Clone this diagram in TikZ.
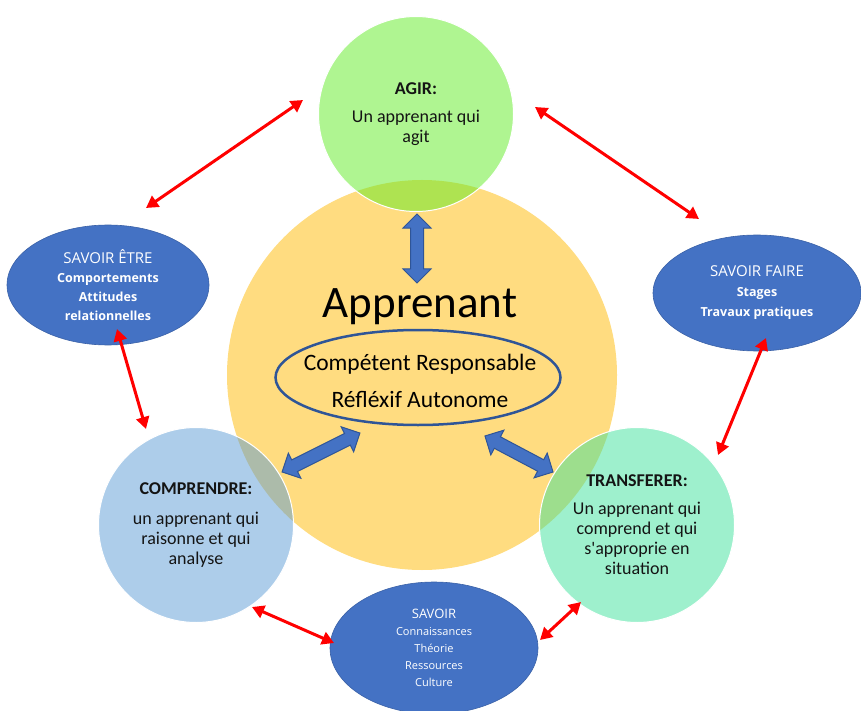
\documentclass[tikz,border=0pt]{standalone}
\usepackage{fontspec}
\setmainfont{Carlito}
\newfontfamily\comicfont{Open Sans}
\usetikzlibrary{arrows.meta,shapes.geometric,shapes.arrows}
\definecolor{yel}{RGB}{255,220,128}
\definecolor{grn}{RGB}{95,235,35}
\definecolor{lbl}{RGB}{91,155,213}
\definecolor{mnt}{RGB}{61,225,155}
\definecolor{dbl}{RGB}{68,114,196}
\definecolor{dbldraw}{RGB}{47,85,151}
\definecolor{txt}{RGB}{20,20,20}
\tikzset{
  bigcircle/.style={circle, fill=yel, minimum size=390pt, inner sep=0pt},
  goalcircle/.style={circle, draw=white, line width=1pt, fill=#1, fill opacity=0.5,
     text opacity=1, minimum size=195pt, inner sep=0pt, align=center, text=txt,
     font=\fontsize{18}{20}\selectfont},
  knowbox/.style={ellipse, fill=dbl, draw=dbl!85!black, line width=0.6pt, inner sep=0pt,
     align=center, text=white},
  redarrow/.style={draw=red, line width=3pt, {Triangle[length=12pt,width=13pt]}-{Triangle[length=12pt,width=13pt]}},
  blockarrow/.style={double arrow, draw=dbldraw, line width=1pt, fill=dbl, inner xsep=0pt,
     inner ysep=6pt, double arrow head extend=7.5pt, double arrow head indent=0pt}
}
\begin{document}
\begin{tikzpicture}[x=1pt,y=-1pt]
\useasboundingbox (0,0) rectangle (861,711);
% central learner
\node[bigcircle] (app) at (422,375) {};
\node[font=\fontsize{45}{45}\selectfont, anchor=base, inner sep=0pt] (apptitle) at (420,317) {Apprenant};
\node[ellipse, draw=dbldraw, line width=2.5pt, minimum width=285pt, minimum height=95pt,
      inner sep=0pt] (qual) at (418,377.5) {};
\node[align=center, inner sep=0pt, font=\fontsize{23.5}{37}\selectfont] (qualtext) at (420,381)
      {Compétent Responsable\\Réfléxif Autonome};
% goal circles
\node[goalcircle=grn] (agir) at (416,114) {\textbf{AGIR:}\\[8pt]Un apprenant qui\\agit};
\node[goalcircle=lbl] (comp) at (196,525) {\textbf{COMPRENDRE:}\\[10pt]un apprenant qui\\raisonne et qui\\analyse};
\node[goalcircle=mnt] (trans) at (637,525) {\textbf{TRANSFERER:}\\[8pt]Un apprenant qui\\comprend et qui\\s\textquotesingle approprie en\\situation};
% knowledge ellipses
\node[knowbox, minimum width=202pt, minimum height=120pt, font=\comicfont\fontsize{12.5}{19}\selectfont] (etre) at (108,285)
  {{\fontsize{15}{19}\selectfont SAVOIR ÊTRE}\\\textbf{Comportements}\\\textbf{Attitudes}\\\textbf{relationnelles}};
\node[knowbox, minimum width=208pt, minimum height=116pt, font=\comicfont\fontsize{12.5}{20}\selectfont] (faire) at (757,293)
  {{\fontsize{15}{20}\selectfont SAVOIR FAIRE}\\\textbf{Stages}\\\textbf{Travaux pratiques}};
\node[knowbox, minimum width=208pt, minimum height=132pt, font=\comicfont\fontsize{11}{17}\selectfont] (savoir) at (434,648)
  {{\fontsize{13}{17}\selectfont SAVOIR}\\Connaissances\\Théorie\\Ressources\\Culture};
% blue block arrows
\node[blockarrow, minimum height=69pt, rotate=90] (ba1) at (417,248.5) {};
\node[blockarrow, minimum height=87pt, rotate=26.6] (ba2) at (321,452.5) {};
\node[blockarrow, minimum height=77pt, rotate=-27.9] (ba3) at (519,454) {};
% red arrow endpoints
\coordinate (r1a) at (303,100); \coordinate (r1b) at (146,208);
\coordinate (r2a) at (535,107); \coordinate (r2b) at (699,219);
\coordinate (r3a) at (117,329); \coordinate (r3b) at (146,429);
\coordinate (r4a) at (766,338); \coordinate (r4b) at (718,455);
\coordinate (r5a) at (252,607); \coordinate (r5b) at (334,643);
\coordinate (r6a) at (581,602); \coordinate (r6b) at (540,640);
\path[redarrow] (r1a) -- (r1b);
\path[redarrow] (r2a) -- (r2b);
\path[redarrow] (r3a) -- (r3b);
\path[redarrow] (r4a) -- (r4b);
\path[redarrow] (r5a) -- (r5b);
\path[redarrow] (r6a) -- (r6b);
\end{tikzpicture}
\end{document}
